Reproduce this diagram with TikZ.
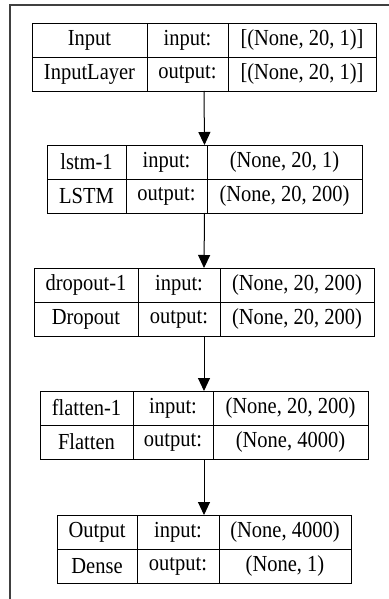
\documentclass[tikz,border=0pt]{standalone}
\usepackage{fontspec}
\setmainfont{Liberation Serif}
\usetikzlibrary{arrows.meta,fit}

\begin{document}
\begin{tikzpicture}[x=1pt, y=-1pt,
    cell/.style={draw, line width=0.9pt, inner sep=0pt, outer sep=0pt, anchor=north west,
        minimum height=34pt, font=\fontsize{20.5}{22}\selectfont,
        execute at begin node={\setbox0=\hbox\bgroup},
        execute at end node={\egroup\scalebox{1}[1.12]{\box0}}},
    layer/.style={inner sep=0pt, outer sep=0pt},
    flow/.style={line width=1pt, -{Triangle[length=13pt, width=12pt]}}]
    \useasboundingbox (0,0) rectangle (388,599);
    \draw[line width=1.4pt, black!75] (392,5) -- (10,5) -- (10,603);

    % Input
    \node[cell, minimum width=115pt] (in1) at (32,23) {Input};
    \node[cell, minimum width=81pt] (in2) at (147,23) {input:};
    \node[cell, minimum width=148pt] (in3) at (228,23) {[(None, 20, 1)]};
    \node[cell, minimum width=115pt] (in4) at (32,57) {InputLayer};
    \node[cell, minimum width=81pt] (in5) at (147,57) {output:};
    \node[cell, minimum width=148pt] (in6) at (228,57) {[(None, 20, 1)]};
    \node[layer, fit=(in1)(in6)] (input) {};

    % lstm
    \node[cell, minimum width=79pt] (ls1) at (47,145) {lstm-1};
    \node[cell, minimum width=81pt] (ls2) at (126,145) {input:};
    \node[cell, minimum width=155pt] (ls3) at (207,145) {(None, 20, 1)};
    \node[cell, minimum width=79pt] (ls4) at (47,179) {LSTM};
    \node[cell, minimum width=81pt] (ls5) at (126,179) {output:};
    \node[cell, minimum width=155pt] (ls6) at (207,179) {(None, 20, 200)};
    \node[layer, fit=(ls1)(ls6)] (lstm) {};

    % dropout
    \node[cell, minimum width=104pt] (dr1) at (34,268) {dropout-1};
    \node[cell, minimum width=82pt] (dr2) at (138,268) {input:};
    \node[cell, minimum width=154pt] (dr3) at (220,268) {(None, 20, 200)};
    \node[cell, minimum width=104pt] (dr4) at (34,302) {Dropout};
    \node[cell, minimum width=82pt] (dr5) at (138,302) {output:};
    \node[cell, minimum width=154pt] (dr6) at (220,302) {(None, 20, 200)};
    \node[layer, fit=(dr1)(dr6)] (dropout) {};

    % flatten
    \node[cell, minimum width=93pt] (fl1) at (40,391) {flatten-1};
    \node[cell, minimum width=80pt] (fl2) at (133,391) {input:};
    \node[cell, minimum width=155pt] (fl3) at (213,391) {(None, 20, 200)};
    \node[cell, minimum width=93pt] (fl4) at (40,425) {Flatten};
    \node[cell, minimum width=80pt] (fl5) at (133,425) {output:};
    \node[cell, minimum width=155pt] (fl6) at (213,425) {(None, 4000)};
    \node[layer, fit=(fl1)(fl6)] (flatten) {};

    % output
    \node[cell, minimum width=80pt] (ou1) at (57,515) {Output};
    \node[cell, minimum width=82pt] (ou2) at (137,515) {input:};
    \node[cell, minimum width=132pt] (ou3) at (219,515) {(None, 4000)};
    \node[cell, minimum width=80pt] (ou4) at (57,549) {Dense};
    \node[cell, minimum width=82pt] (ou5) at (137,549) {output:};
    \node[cell, minimum width=132pt] (ou6) at (219,549) {(None, 1)};
    \node[layer, fit=(ou1)(ou6)] (output) {};

    \draw[flow] (input.south) -- (lstm.north);
    \draw[flow] (lstm.south) -- (dropout.north);
    \draw[flow] (dropout.south) -- (flatten.north);
    \draw[flow] (flatten.south) -- (output.north);
\end{tikzpicture}
\end{document}
